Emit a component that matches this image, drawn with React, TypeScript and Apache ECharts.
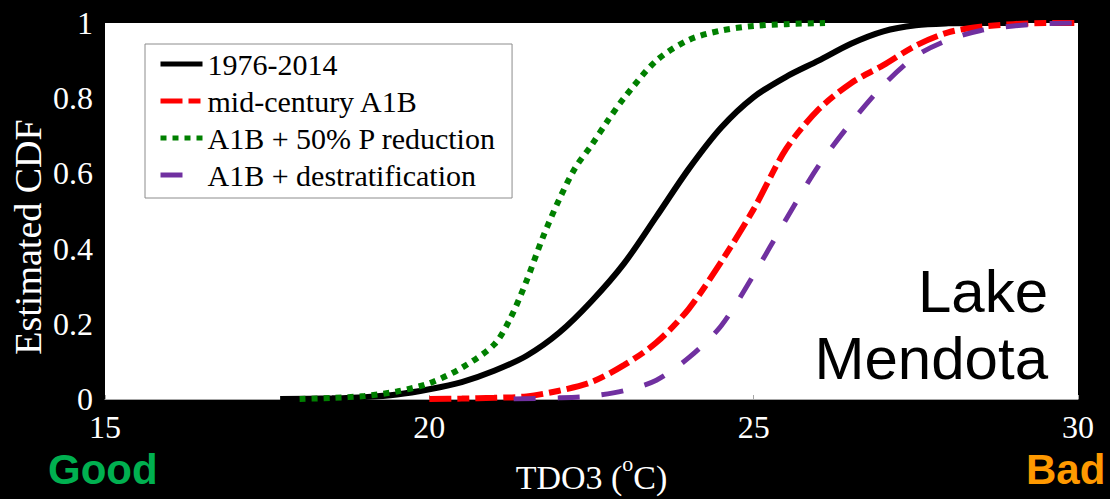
import React, { useEffect, useRef } from 'react';
import * as echarts from 'echarts';

// ---- data ----
const xTicks = [15, 20, 25, 30];
const yTicks = [0, 0.2, 0.4, 0.6, 0.8, 1];

const seriesNames = ['1976-2014', 'mid-century A1B', 'A1B + 50% P reduction', 'A1B + destratification'];

const baselineT = [17.7, 18.5, 19.0, 19.5, 20.0, 20.5, 21.0, 21.5, 22.0, 22.5, 23.0, 23.5, 24.0, 24.5, 25.0, 25.5, 26.0, 26.5, 27.0, 27.5, 28.0, 28.5, 29.0];
const baselineCDF = [0, 0.002, 0.005, 0.012, 0.026, 0.045, 0.075, 0.115, 0.176, 0.26, 0.36, 0.485, 0.612, 0.722, 0.803, 0.857, 0.9, 0.945, 0.978, 0.994, 0.999, 1, 1];

const a1bT = [20.0, 20.5, 21.0, 21.5, 22.0, 22.5, 23.0, 23.5, 24.0, 24.5, 25.0, 25.5, 26.0, 26.5, 27.0, 27.5, 28.0, 28.5, 29.0, 29.5, 30.0];
const a1bCDF = [0, 0.001, 0.003, 0.007, 0.022, 0.045, 0.09, 0.15, 0.24, 0.365, 0.505, 0.665, 0.77, 0.84, 0.888, 0.94, 0.975, 0.99, 0.997, 1, 1];

const pRedT = [18.0, 18.5, 19.0, 19.5, 20.0, 20.5, 21.0, 21.25, 21.5, 21.75, 22.0, 22.25, 22.5, 22.75, 23.0, 23.5, 24.0, 24.5, 25.0, 25.5, 26.1];
const pRedCDF = [0, 0.003, 0.008, 0.02, 0.042, 0.083, 0.145, 0.215, 0.315, 0.43, 0.53, 0.615, 0.675, 0.74, 0.8, 0.9, 0.955, 0.98, 0.992, 0.997, 1];

const destratT = [21.3, 22.0, 22.5, 23.0, 23.5, 24.0, 24.5, 25.0, 25.5, 26.0, 26.5, 27.0, 27.5, 28.0, 28.5, 29.0, 29.5, 30.0];
const destratCDF = [0, 0.003, 0.008, 0.022, 0.05, 0.11, 0.195, 0.33, 0.478, 0.62, 0.735, 0.835, 0.912, 0.955, 0.98, 0.992, 0.998, 1];

const zip = (xs: number[], ys: number[]) => xs.map((x, i) => [x, ys[i]]);

const SERIF = "'Liberation Serif', 'Times New Roman', serif";
const SANS = "'Liberation Sans', Arial, sans-serif";

export default function App() {
  const ref = useRef<HTMLDivElement>(null);
  useEffect(() => {
    const chart = echarts.init(ref.current!, null, { renderer: 'svg' });
    const lineSeries = (name: string, xs: number[], ys: number[], color: string, type: any, width: number) => ({
      name,
      type: 'line',
      data: zip(xs, ys),
      smooth: 0.3,
      showSymbol: false,
      symbol: 'none',
      lineStyle: { color, width, type, cap: 'butt' },
      itemStyle: { color },
      z: 3,
    });
    chart.setOption({
      animation: false,
      backgroundColor: '#000',
      grid: {
        left: 105,
        right: 32,
        top: 23,
        bottom: 100,
        show: true,
        backgroundColor: '#fff',
        borderWidth: 0,
        containLabel: false,
        outerBoundsMode: 'none',
      },
      xAxis: {
        type: 'value',
        min: xTicks[0],
        max: xTicks[xTicks.length - 1],
        interval: 5,
        axisLine: { show: true, lineStyle: { color: '#a6a6a6', width: 1 } },
        axisTick: { show: true, inside: true, length: 4, lineStyle: { color: '#a6a6a6' } },
        splitLine: { show: false },
        axisLabel: { color: '#fff', fontFamily: SERIF, fontSize: 32, margin: 12 },
        name: '{n|TDO3 (}{s|o}{n|C)}',
        nameLocation: 'middle',
        nameGap: 53,
        nameTextStyle: {
          rich: {
            n: { color: '#fff', fontFamily: SERIF, fontSize: 34, lineHeight: 34 },
            s: { color: '#fff', fontFamily: SERIF, fontSize: 22, lineHeight: 50, verticalAlign: 'top' },
          },
        },
      },
      yAxis: {
        type: 'value',
        min: yTicks[0],
        max: yTicks[yTicks.length - 1],
        interval: 0.2,
        axisLine: { show: false },
        axisTick: { show: false },
        splitLine: { show: false },
        axisLabel: { color: '#fff', fontFamily: SERIF, fontSize: 32, margin: 12 },
      },
      legend: {
        orient: 'vertical',
        left: 145,
        top: 44,
        padding: [5, 16, 8, 13],
        itemGap: 7,
        itemWidth: 42,
        itemHeight: 20,
        backgroundColor: '#fff',
        borderColor: '#8c8c8c',
        borderWidth: 1,
        borderRadius: 0,
        data: seriesNames,
        itemStyle: { opacity: 0 },
        lineStyle: { width: 5, opacity: 1 },
        textStyle: { color: '#000', fontFamily: SERIF, fontSize: 30 },
      },
      graphic: [
        {
          type: 'text',
          x: 28,
          y: 237,
          rotation: Math.PI / 2,
          style: { text: 'Estimated CDF', fill: '#fff', font: `38px ${SERIF}`, textAlign: 'center', textVerticalAlign: 'middle' },
        },
        {
          type: 'text',
          x: 1048,
          y: 291,
          style: { text: 'Lake', fill: '#000', font: `60px ${SANS}`, textAlign: 'right', textVerticalAlign: 'middle' },
          z: 10,
        },
        {
          type: 'text',
          x: 1048,
          y: 358,
          style: { text: 'Mendota', fill: '#000', font: `60px ${SANS}`, textAlign: 'right', textVerticalAlign: 'middle' },
          z: 10,
        },
        {
          type: 'text',
          x: 48,
          y: 469,
          style: { text: 'Good', fill: '#00B050', font: `bold 42px ${SANS}`, textAlign: 'left', textVerticalAlign: 'middle' },
        },
        {
          type: 'text',
          x: 1026,
          y: 469,
          style: { text: 'Bad', fill: '#FF9900', font: `bold 42px ${SANS}`, textAlign: 'left', textVerticalAlign: 'middle' },
        },
      ],
      series: [
        lineSeries(seriesNames[0], baselineT, baselineCDF, '#000000', 'solid', 6),
        lineSeries(seriesNames[1], a1bT, a1bCDF, '#FF0000', [22, 6, 12, 6], 6),
        lineSeries(seriesNames[2], pRedT, pRedCDF, '#008000', [6, 6], 6),
        lineSeries(seriesNames[3], destratT, destratCDF, '#7030A0', [22, 22], 5),
      ],
    });
    return () => chart.dispose();
  }, []);
  return (
    <div style={{ position: 'fixed', left: 0, top: 0, width: 1110, height: 499, background: '#000' }}>
      <div ref={ref} style={{ width: 1110, height: 499 }} />
    </div>
  );
}
